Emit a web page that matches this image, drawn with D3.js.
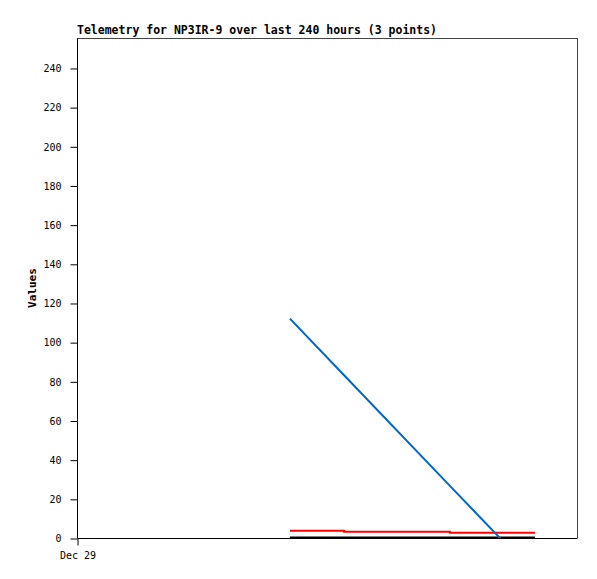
<!DOCTYPE html>
<html>
<head>
<meta charset="utf-8">
<script src="https://cdn.jsdelivr.net/npm/d3@7"></script>
<style>
  body { margin: 0; background: #fff; }
  svg text { font-family: "DejaVu Sans Mono", monospace; }
</style>
</head>
<body>
<svg id="chart"></svg>
<script>
// telemetry data: hours since start of window (Dec 29)
var hoursBlue  = [102.2, 128.2, 179.0, 219.8];
var valuesBlue = [112, 83.1, 26.6, -18.6];
var hoursRed   = [102.2, 128.2, 179.0, 219.8];
var valuesRed  = [3.7, 3.2, 2.7, 2.7];
var hoursBlack = [102.2, 219.8];
var valuesBlack = [0, 0];
var yTicks = [0, 20, 40, 60, 80, 100, 120, 140, 160, 180, 200, 220, 240];
var xTickHours = [0];
var xTickLabels = ["Dec 29"];

var width = 597, height = 579;
var padding = {left: 77, right: 20, top: 38, bottom: 41};

var svg = d3.select("#chart")
  .attr("width", width)
  .attr("height", height);

var x = d3.scaleLinear().domain([0, 240]).range([padding.left, width - padding.right]);
var y = d3.scaleLinear().domain([0, 255.3]).range([height - padding.bottom, padding.top]);

// frame (top + right in gray)
svg.append("path")
  .attr("d", "M" + x(0) + "," + y(255.3) + "H" + x(240) + "V" + y(0))
  .attr("fill", "none")
  .attr("stroke", "#444")
  .attr("stroke-width", 1)
  .attr("shape-rendering", "crispEdges");

svg.append("defs").append("clipPath").attr("id", "clip")
  .append("rect")
  .attr("x", x(0)).attr("y", y(255.3))
  .attr("width", x(240) - x(0)).attr("height", y(0) - y(255.3) + 1);

var plot = svg.append("g").attr("clip-path", "url(#clip)");

function series(hours, vals) {
  return hours.map(function(h, i) { return [h, vals[i]]; });
}

var line = d3.line().x(function(d) { return x(d[0]); }).y(function(d) { return y(d[1]); });
var step = d3.line().curve(d3.curveStepAfter).x(function(d) { return x(d[0]); }).y(function(d) { return y(d[1]); });

plot.append("path")
  .attr("d", line(series(hoursBlack, valuesBlack)))
  .attr("transform", "translate(0,-0.5)")
  .attr("fill", "none").attr("stroke", "#000").attr("stroke-width", 2);

plot.append("path")
  .attr("d", step(series(hoursRed, valuesRed)))
  .attr("fill", "none").attr("stroke", "#ff0000").attr("stroke-width", 2);

plot.append("path")
  .attr("d", line(series(hoursBlue, valuesBlue)))
  .attr("fill", "none").attr("stroke", "#0066cc").attr("stroke-width", 2);

// y axis
var yAxis = d3.axisLeft(y).tickValues(yTicks).tickSize(7).tickPadding(9);
var gy = svg.append("g")
  .attr("transform", "translate(" + (x(0) + 0.5) + ",0.5)")
  .call(yAxis);
gy.select(".domain").attr("d", "M0," + y(0) + "V" + y(255.3));
gy.selectAll("text").attr("font-size", "10px").attr("fill", "#000")
  .attr("font-family", "DejaVu Sans Mono, monospace");

// x axis
var xAxis = d3.axisBottom(x).tickValues(xTickHours)
  .tickFormat(function(d, i) { return xTickLabels[i]; })
  .tickSize(7).tickPadding(6);
var gx = svg.append("g")
  .attr("transform", "translate(0.5," + (y(0) + 0.5) + ")")
  .call(xAxis);
gx.select(".domain").attr("d", "M" + x(0) + ",0H" + x(240));
gx.selectAll("text").attr("font-size", "10px").attr("fill", "#000")
  .attr("font-family", "DejaVu Sans Mono, monospace");

// title
svg.append("text")
  .attr("x", x(0))
  .attr("y", 34)
  .attr("font-size", "11.5px")
  .attr("font-weight", "bold")
  .text("Telemetry for NP3IR-9 over last 240 hours (3 points)");

// y label
svg.append("text")
  .attr("transform", "translate(36," + ((y(0) + y(255.3)) / 2) + ") rotate(-90)")
  .attr("text-anchor", "middle")
  .attr("font-size", "11px")
  .attr("font-weight", "bold")
  .text("Values");
</script>
</body>
</html>
